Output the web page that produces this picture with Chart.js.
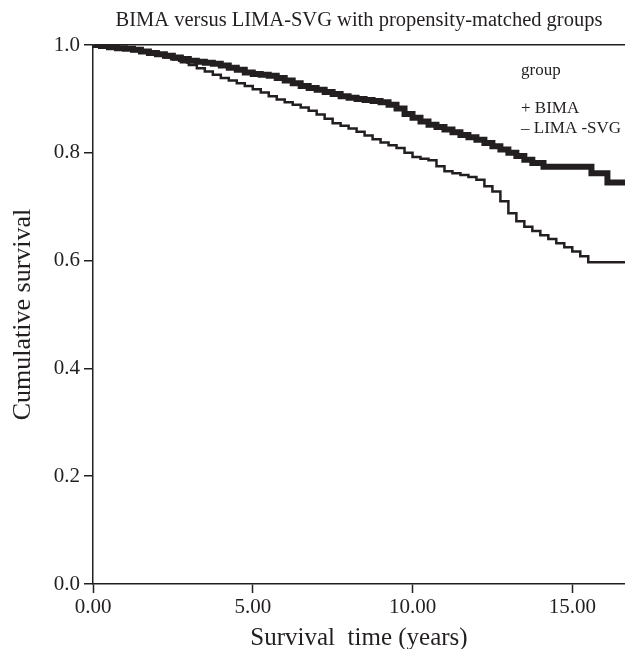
<!DOCTYPE html>
<html>
<head>
<meta charset="utf-8">
<script src="https://cdn.jsdelivr.net/npm/chart.js@4.4.1/dist/chart.umd.min.js"></script>
<style>
  body { margin: 0; background: #fff; }
  canvas { display: block; }
</style>
</head>
<body>
<canvas id="km" width="625" height="649"></canvas>
<script>
// Kaplan-Meier estimates (years, cumulative survival)
const bimaTime = [0, 0.25, 0.5, 0.75, 1.0, 1.25, 1.5, 1.75, 2.0, 2.25, 2.5, 2.75, 3.0, 3.25, 3.5, 3.75, 4.0, 4.25, 4.5, 4.75,
    5.0, 5.25, 5.5, 5.75, 6.0, 6.25, 6.5, 6.75, 7.0, 7.25, 7.5, 7.75, 8.0, 8.25, 8.5, 8.75, 9.0, 9.25, 9.5, 9.75,
    10.0, 10.25, 10.5, 10.75, 11.0, 11.25, 11.5, 11.75, 12.0, 12.25, 12.5, 12.75, 13.0, 13.25, 13.5, 13.75, 14.1, 15.6, 16.1, 16.65];
const bimaSurv = [1.000, 0.998, 0.996, 0.994, 0.993, 0.991, 0.988, 0.985, 0.983, 0.980, 0.977, 0.974, 0.971, 0.969, 0.967, 0.965, 0.962, 0.958, 0.954, 0.949,
    0.946, 0.945, 0.943, 0.939, 0.934, 0.929, 0.924, 0.920, 0.917, 0.913, 0.909, 0.905, 0.902, 0.900, 0.898, 0.896, 0.894, 0.889, 0.882, 0.872,
    0.865, 0.858, 0.852, 0.848, 0.843, 0.838, 0.833, 0.829, 0.824, 0.818, 0.812, 0.806, 0.800, 0.794, 0.787, 0.781, 0.774, 0.762, 0.745, 0.745];

const limaTime = [0, 0.25, 0.5, 0.75, 1.0, 1.25, 1.5, 1.75, 2.0, 2.25, 2.5, 2.75, 3.0, 3.25, 3.5, 3.75, 4.0, 4.25, 4.5, 4.75,
    5.0, 5.25, 5.5, 5.75, 6.0, 6.25, 6.5, 6.75, 7.0, 7.25, 7.5, 7.75, 8.0, 8.25, 8.5, 8.75, 9.0, 9.25, 9.5, 9.75,
    10.0, 10.25, 10.5, 10.75, 11.0, 11.25, 11.5, 11.75, 12.0, 12.25, 12.5, 12.75, 13.0, 13.25, 13.5, 13.75,
    14.0, 14.25, 14.5, 14.75, 15.0, 15.25, 15.5, 16.65];
const limaSurv = [1.000, 0.998, 0.995, 0.993, 0.991, 0.989, 0.986, 0.983, 0.980, 0.977, 0.973, 0.968, 0.963, 0.957, 0.951, 0.945, 0.939, 0.934, 0.929, 0.924,
    0.918, 0.912, 0.905, 0.899, 0.894, 0.889, 0.884, 0.878, 0.871, 0.863, 0.855, 0.850, 0.845, 0.839, 0.832, 0.825, 0.819, 0.814, 0.809, 0.800,
    0.792, 0.789, 0.786, 0.775, 0.766, 0.762, 0.759, 0.755, 0.750, 0.738, 0.728, 0.710, 0.688, 0.673, 0.663, 0.655,
    0.647, 0.640, 0.632, 0.625, 0.617, 0.608, 0.597, 0.597];

const xTicks = [0, 5, 10, 15];
const yTicks = [0.0, 0.2, 0.4, 0.6, 0.8, 1.0];

const ink = '#231f20';
const serif = '"Liberation Serif", "DejaVu Serif", serif';

function toPoints(xs, ys) {
    return xs.map((x, i) => ({x: x, y: ys[i]}));
}

// legend text in the upper right corner of the plot
const groupLegend = {
    id: 'groupLegend',
    afterDraw(chart) {
        const ctx = chart.ctx;
        const x = chart.chartArea.right - 104;
        const top = chart.chartArea.top;
        ctx.save();
        ctx.fillStyle = ink;
        ctx.font = '17px ' + serif;
        ctx.textBaseline = 'middle';
        ctx.fillText('group', x, top + 26);
        ctx.fillText('+ BIMA', x, top + 64);
        ctx.fillText('\u2013 LIMA -SVG', x, top + 84);
        ctx.restore();
    }
};

new Chart(document.getElementById('km'), {
    type: 'scatter',
    data: {
        datasets: [
            {
                label: 'BIMA',
                data: toPoints(bimaTime, bimaSurv),
                showLine: true,
                stepped: true,
                borderColor: ink,
                borderWidth: 6,
                pointRadius: 0
            },
            {
                label: 'LIMA -SVG',
                data: toPoints(limaTime, limaSurv),
                showLine: true,
                stepped: true,
                borderColor: ink,
                borderWidth: 2.5,
                pointRadius: 0
            }
        ]
    },
    options: {
        responsive: false,
        animation: false,
        layout: { padding: 0 },
        plugins: {
            legend: { display: false },
            tooltip: { enabled: false },
            title: {
                display: true,
                fullSize: false,
                text: 'BIMA versus LIMA-SVG with propensity-matched groups',
                color: ink,
                font: { family: serif, size: 20.5, weight: 'normal' },
                padding: { top: 8, bottom: 12.4 }
            }
        },
        scales: {
            x: {
                type: 'linear',
                min: 0,
                max: 16.65,
                afterBuildTicks: (scale) => { scale.ticks = xTicks.map(v => ({value: v})); },
                afterFit: (scale) => { scale.height = 65; scale.paddingLeft = 0; scale.paddingRight = 0; },
                ticks: {
                    color: ink,
                    font: { family: serif, size: 21 },
                    padding: 2,
                    maxRotation: 0,
                    callback: (v) => Number(v).toFixed(2)
                },
                grid: { drawOnChartArea: false, tickLength: 9, tickColor: ink, tickWidth: 1.5 },
                border: { color: ink, width: 1.5 },
                title: {
                    display: true,
                    text: 'Survival  time (years)',
                    color: ink,
                    font: { family: serif, size: 25 },
                    padding: { top: 0, bottom: -4 }
                }
            },
            y: {
                type: 'linear',
                min: 0,
                max: 1,
                afterBuildTicks: (scale) => { scale.ticks = yTicks.map(v => ({value: v})); },
                afterFit: (scale) => { scale.width = 93; },
                ticks: {
                    color: ink,
                    font: { family: serif, size: 21 },
                    padding: 4,
                    callback: (v) => Number(v).toFixed(1)
                },
                grid: {
                    color: (c) => (c.tick && Math.abs(c.tick.value - 1) < 1e-6) ? ink : 'rgba(0,0,0,0)',
                    lineWidth: 1.5,
                    tickLength: 9,
                    tickColor: ink,
                    tickWidth: 1.5
                },
                border: { color: ink, width: 1.5 },
                title: {
                    display: true,
                    text: 'Cumulative survival',
                    color: ink,
                    font: { family: serif, size: 26 },
                    padding: { top: 8, bottom: 0 }
                }
            }
        }
    },
    plugins: [groupLegend]
});
</script>
</body>
</html>
